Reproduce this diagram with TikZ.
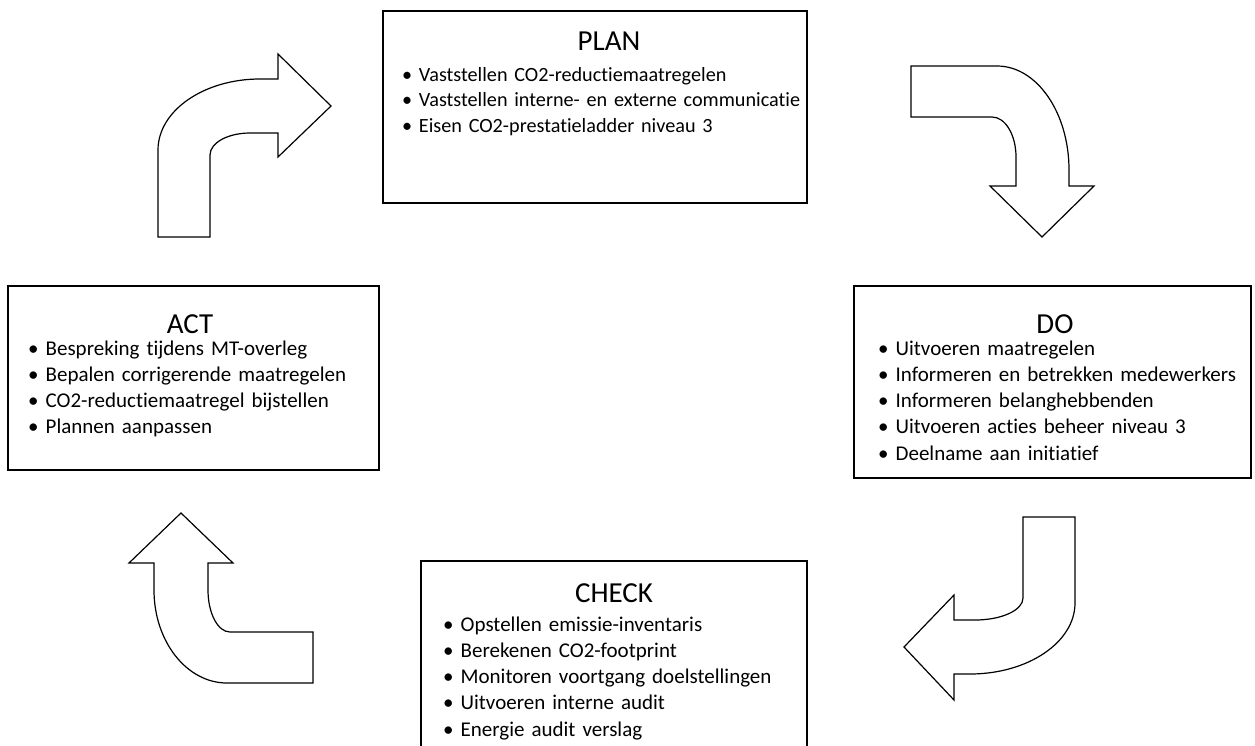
\documentclass[tikz,border=0pt]{standalone}
\usepackage{fontspec}
\setmainfont{Carlito}[Ligatures=NoCommon]
\usetikzlibrary{positioning,calc}

\begin{document}
\begin{tikzpicture}[
x=1pt, y=-1pt,
phasebox/.style={rectangle, draw, line width=1.6pt, inner sep=0pt, anchor=north west},
phasetitle/.style={inner sep=0pt, anchor=base, font=\fontsize{29}{34}\selectfont},
phaselist/.style={inner sep=0pt, anchor=base west, text width=480pt, align=left, font=\fontsize{21}{26.3}\selectfont},
bentarrow/.style={draw, line width=1.2pt, fill=white, line join=miter}
]
\clip (0,0) rectangle (1255,745);

% --- PLAN ---
\node (plan) [phasebox, minimum width=424pt, minimum height=192pt] at (382,10) {};
\node (plantitle) [phasetitle] at (609,50) {PLAN};
\node (planlist) [phaselist, font=\fontsize{20.2}{25.5}\selectfont] at (402,81) {• Vaststellen CO2-reductiemaatregelen\\
• Vaststellen interne- en externe communicatie\\
• Eisen CO2-prestatieladder niveau 3};

% --- DO ---
\node (do) [phasebox, minimum width=397pt, minimum height=192pt] at (853,285) {};
\node (dotitle) [phasetitle] at (1055,333) {DO};
\node (dolist) [phaselist] at (878,355) {• Uitvoeren maatregelen\\
• Informeren en betrekken medewerkers\\
• Informeren belanghebbenden\\
• Uitvoeren acties beheer niveau 3\\
• Deelname aan initiatief};

% --- CHECK ---
\node (check) [phasebox, minimum width=386pt, minimum height=220pt] at (420,560) {};
\node (checktitle) [phasetitle] at (614,602) {CHECK};
\node (checklist) [phaselist] at (443,631) {• Opstellen emissie-inventaris\\
• Berekenen CO2-footprint\\
• Monitoren voortgang doelstellingen\\
• Uitvoeren interne audit\\
• Energie audit verslag};

% --- ACT ---
\node (act) [phasebox, minimum width=371pt, minimum height=184pt] at (7,285) {};
\node (acttitle) [phasetitle] at (190,333) {ACT};
\node (actlist) [phaselist] at (28,355) {• Bespreking tijdens MT-overleg\\
• Bepalen corrigerende maatregelen\\
• CO2-reductiemaatregel bijstellen\\
• Plannen aanpassen};

% --- Cycle arrows ---
\draw [bentarrow] (158,237) -- (158,150)
  .. controls (158,110.8) and (203.7,79) .. (260,79)
  -- (278,79) -- (278,54) -- (331,106) -- (278,157) -- (278,133) -- (250,133)
  .. controls (227.9,133) and (210,142.8) .. (210,155) -- (210,237) -- cycle;
\draw [bentarrow] (911,66) -- (997,66)
  .. controls (1036.8,66) and (1069,112.6) .. (1069,170)
  -- (1069,186) -- (1094,186) -- (1042,237) -- (990,186) -- (1016,186) -- (1016,157)
  .. controls (1016,134.9) and (1005.3,117) .. (992,117) -- (911,117) -- cycle;
\draw [bentarrow] (1023,517) -- (1075,517) -- (1075,603)
  .. controls (1075,642.2) and (1028,674) .. (970,674)
  -- (954,674) -- (954,700) -- (904,647) -- (954,595) -- (954,620) -- (975,620)
  .. controls (1001.5,620) and (1023,610.2) .. (1023,598) -- cycle;
\draw [bentarrow] (313,632) -- (313,683) -- (227,683)
  .. controls (186.7,683) and (154,641.4) .. (154,590)
  -- (154,563) -- (129,563) -- (181,513) -- (233,563) -- (208,563) -- (208,590)
  .. controls (208,613.2) and (217.8,632) .. (230,632) -- cycle;

\end{tikzpicture}
\end{document}
